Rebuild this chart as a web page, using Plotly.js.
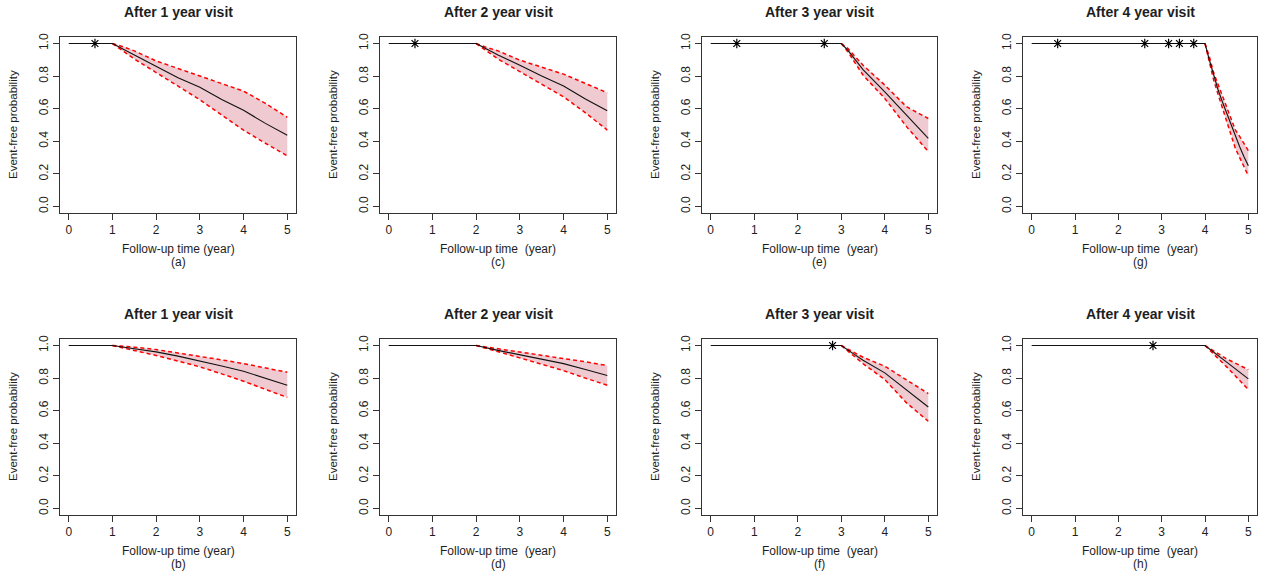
<!DOCTYPE html>
<html>
<head>
<meta charset="utf-8">
<script src="https://cdn.plot.ly/plotly-3.0.1.min.js"></script>
<style>
  html, body { margin: 0; padding: 0; background: #fff; }
  #chart { width: 1266px; height: 575px; }
</style>
</head>
<body>
<div id="chart"></div>
<script>
// Event-free probability after each landmark visit, two groups of panels.

// Tick labels
const xTickVals = [0, 1, 2, 3, 4, 5];
const xTickText = ['0', '1', '2', '3', '4', '5'];
const yTickVals = [0, 0.2, 0.4, 0.6, 0.8, 1.0];
const yTickText = ['0.0', '0.2', '0.4', '0.6', '0.8', '1.0'];

// Panel titles and letters
const visitTitles = ['After 1 year visit', 'After 2 year visit', 'After 3 year visit', 'After 4 year visit'];
const lettersTop = ['(a)', '(c)', '(e)', '(g)'];
const lettersBottom = ['(b)', '(d)', '(f)', '(h)'];
const xTitles = ['Follow-up time (year)', 'Follow-up time  (year)', 'Follow-up time  (year)', 'Follow-up time  (year)'];
const yTitle = 'Event-free probability';

// Start of follow-up
const startTime = 0;

// (a)
const timeA  = [1, 1.25, 1.5, 2, 2.5, 3, 3.5, 4, 4.5, 5];
const survA  = [1, 0.965, 0.93, 0.858, 0.79, 0.732, 0.657, 0.59, 0.51, 0.437];
const upperA = [1, 0.98, 0.955, 0.893, 0.847, 0.80, 0.755, 0.708, 0.633, 0.547];
const lowerA = [1, 0.95, 0.905, 0.822, 0.739, 0.655, 0.561, 0.468, 0.388, 0.31];
const censorA = [0.6];

// (c)
const timeC  = [2, 2.25, 2.5, 3, 3.5, 4, 4.5, 5];
const survC  = [1, 0.965, 0.93, 0.867, 0.80, 0.739, 0.66, 0.588];
const upperC = [1, 0.975, 0.955, 0.898, 0.855, 0.812, 0.755, 0.698];
const lowerC = [1, 0.955, 0.905, 0.827, 0.75, 0.673, 0.575, 0.469];
const censorC = [0.6];

// (e)
const timeE  = [3, 3.15, 3.5, 4, 4.5, 5];
const survE  = [1, 0.96, 0.84, 0.704, 0.56, 0.418];
const upperE = [1, 0.97, 0.867, 0.745, 0.612, 0.54];
const lowerE = [1, 0.95, 0.806, 0.663, 0.49, 0.337];
const censorE = [0.6, 2.61];

// (g)
const timeG  = [4, 4.1, 4.2, 4.3, 4.4, 4.5, 4.6, 4.7, 4.8, 4.9, 5];
const survG  = [1, 0.90, 0.80, 0.718, 0.643, 0.571, 0.50, 0.43, 0.367, 0.305, 0.25];
const upperG = [1, 0.92, 0.82, 0.75, 0.68, 0.616, 0.55, 0.47, 0.43, 0.385, 0.343];
const lowerG = [1, 0.88, 0.776, 0.69, 0.605, 0.52, 0.45, 0.357, 0.30, 0.24, 0.188];
const censorG = [0.6, 2.61, 3.16, 3.41, 3.74];

// (b)
const timeB  = [1, 1.5, 2, 2.5, 3, 3.5, 4, 4.5, 5];
const survB  = [1, 0.98, 0.961, 0.935, 0.906, 0.874, 0.842, 0.80, 0.756];
const upperB = [1, 0.99, 0.975, 0.955, 0.934, 0.912, 0.889, 0.863, 0.836];
const lowerB = [1, 0.97, 0.939, 0.905, 0.869, 0.826, 0.781, 0.731, 0.682];
const censorB = [];

// (d)
const timeD  = [2, 2.5, 3, 3.5, 4, 4.5, 5];
const survD  = [1, 0.97, 0.943, 0.915, 0.889, 0.853, 0.816];
const upperD = [1, 0.98, 0.961, 0.942, 0.922, 0.90, 0.877];
const lowerD = [1, 0.96, 0.924, 0.885, 0.846, 0.80, 0.756];
const censorD = [];

// (f)
const timeF  = [3, 3.25, 3.5, 4, 4.5, 5];
const survF  = [1, 0.955, 0.91, 0.832, 0.725, 0.623];
const upperF = [1, 0.965, 0.928, 0.873, 0.787, 0.705];
const lowerF = [1, 0.945, 0.889, 0.791, 0.648, 0.535];
const censorF = [2.8];

// (h)
const timeH  = [4, 4.5, 5];
const survH  = [1, 0.898, 0.795];
const upperH = [1, 0.918, 0.852];
const lowerH = [1, 0.869, 0.73];
const censorH = [2.8];

// Panel order: top row then bottom row, left to right
const panels = [
  {t: timeA, s: survA, u: upperA, l: lowerA, c: censorA},
  {t: timeC, s: survC, u: upperC, l: lowerC, c: censorC},
  {t: timeE, s: survE, u: upperE, l: lowerE, c: censorE},
  {t: timeG, s: survG, u: upperG, l: lowerG, c: censorG},
  {t: timeB, s: survB, u: upperB, l: lowerB, c: censorB},
  {t: timeD, s: survD, u: upperD, l: lowerD, c: censorD},
  {t: timeF, s: survF, u: upperF, l: lowerF, c: censorF},
  {t: timeH, s: survH, u: upperH, l: lowerH, c: censorH}
];

// Page geometry (pixels)
const W = 1266, H = 575;
const colBox = [[60, 296], [380, 616], [702, 937], [1023, 1257]];
const rowBox = [[37, 213], [339, 515]];
const px = v => v / W;
const py = v => 1 - v / H;

const FONT = 'Liberation Sans, Arial, sans-serif';
const TXT = '#1e1e1e';
const FILL = 'rgba(238, 200, 207, 0.95)';

const traces = [];
const layout = {
  width: W, height: H,
  margin: {l: 0, r: 0, t: 0, b: 0},
  paper_bgcolor: '#fff', plot_bgcolor: '#fff',
  showlegend: false,
  font: {family: FONT, color: TXT, size: 12},
  annotations: []
};

panels.forEach((p, i) => {
  const row = i < 4 ? 0 : 1;
  const col = i % 4;
  const n = i + 1;
  const xa = 'x' + (n === 1 ? '' : n);
  const ya = 'y' + (n === 1 ? '' : n);

  // confidence band
  traces.push({
    x: p.t.concat(p.t.slice().reverse()),
    y: p.u.concat(p.l.slice().reverse()),
    xaxis: xa, yaxis: ya, mode: 'lines', fill: 'toself',
    fillcolor: FILL, line: {width: 0}, hoverinfo: 'skip'
  });
  // upper and lower limits
  [p.u, p.l].forEach(lim => traces.push({
    x: p.t, y: lim, xaxis: xa, yaxis: ya, mode: 'lines',
    line: {color: '#ff0000', width: 1.5, dash: '4px,3px'}
  }));
  // event-free curve from start of follow-up
  traces.push({
    x: [startTime].concat(p.t), y: [1].concat(p.s),
    xaxis: xa, yaxis: ya, mode: 'lines',
    line: {color: '#111', width: 1.1}
  });
  // censoring marks
  if (p.c.length) {
    traces.push({
      x: p.c, y: p.c.map(() => 1), xaxis: xa, yaxis: ya, mode: 'markers',
      marker: {symbol: 'asterisk-open', size: 8, color: '#000', line: {color: '#000', width: 1.2}}
    });
  }

  const xb = colBox[col], yb = rowBox[row];
  layout['xaxis' + (n === 1 ? '' : n)] = {
    domain: [px(xb[0]), px(xb[1])], anchor: ya,
    range: [-0.2, 5.2], tickvals: xTickVals, ticktext: xTickText,
    ticks: 'outside', ticklen: 6, tickwidth: 1, tickcolor: '#333',
    showline: true, mirror: true, linecolor: '#333', linewidth: 1,
    showgrid: false, zeroline: false, fixedrange: true,
    tickfont: {family: FONT, size: 12, color: TXT}
  };
  layout['yaxis' + (n === 1 ? '' : n)] = {
    domain: [py(yb[1]), py(yb[0])], anchor: xa,
    range: [-0.04, 1.04], tickvals: yTickVals, ticktext: yTickText,
    ticks: 'outside', ticklen: 6, tickwidth: 1, tickcolor: '#333', tickangle: -90,
    showline: true, mirror: true, linecolor: '#333', linewidth: 1,
    showgrid: false, zeroline: false, fixedrange: true,
    tickfont: {family: FONT, size: 12, color: TXT}
  };

  const cx = (xb[0] + xb[1]) / 2;
  const cy = (yb[0] + yb[1]) / 2;
  const titleY = row === 0 ? 11.5 : 314;
  layout.annotations.push(
    {text: '<b>' + visitTitles[col] + '</b>', x: px(cx), y: py(titleY), xref: 'paper', yref: 'paper',
     xanchor: 'center', yanchor: 'middle', showarrow: false, font: {family: FONT, size: 14, color: TXT}},
    {text: xTitles[col].replace(/  /g, ' \u00a0'), x: px(cx), y: py(yb[1] + 35.5), xref: 'paper', yref: 'paper',
     xanchor: 'center', yanchor: 'middle', showarrow: false, font: {family: FONT, size: 12, color: TXT}},
    {text: (row === 0 ? lettersTop : lettersBottom)[col], x: px(cx), y: py(yb[1] + 49), xref: 'paper', yref: 'paper',
     xanchor: 'center', yanchor: 'middle', showarrow: false, font: {family: FONT, size: 12, color: TXT}},
    {text: yTitle, x: px(xb[0] - 47), y: py(cy), xref: 'paper', yref: 'paper', textangle: -90,
     xanchor: 'center', yanchor: 'middle', showarrow: false, font: {family: FONT, size: 11.5, color: TXT}}
  );
});

Plotly.newPlot('chart', traces, layout, {displayModeBar: false, staticPlot: true});
</script>
</body>
</html>
